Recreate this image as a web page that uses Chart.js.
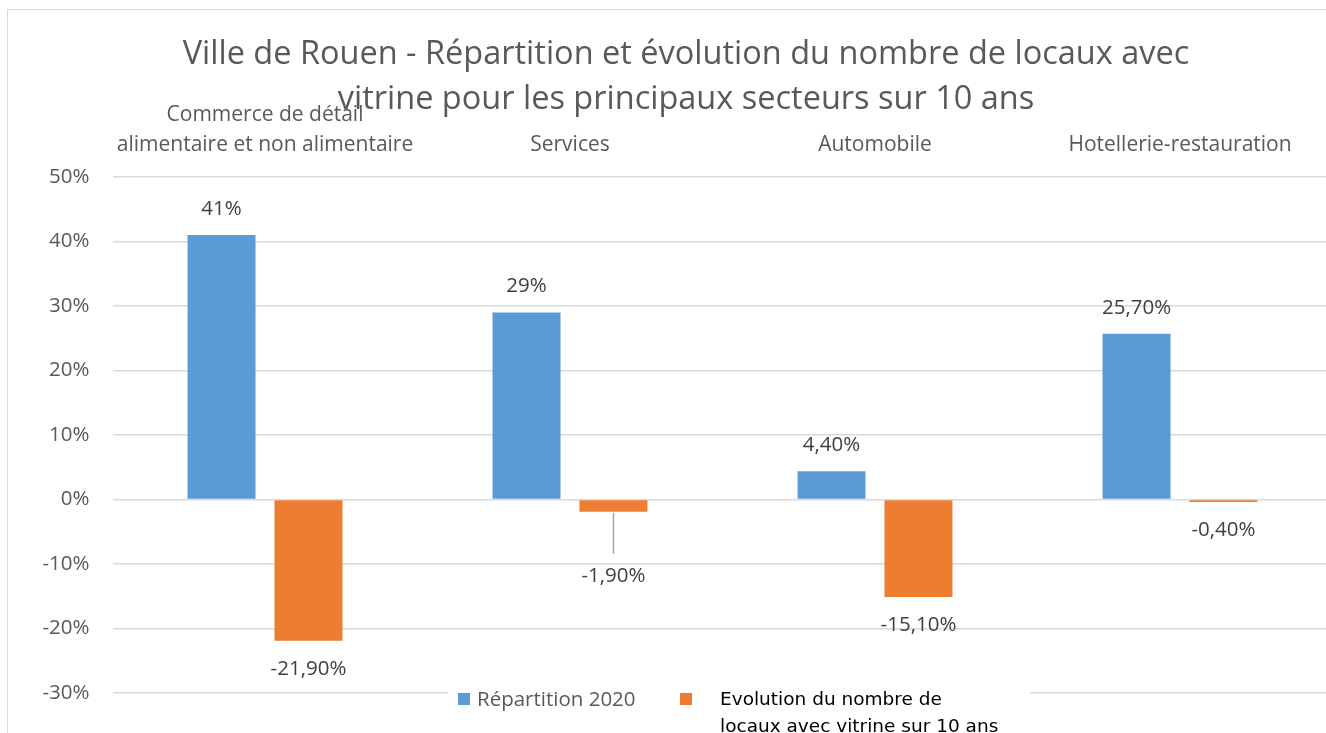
<!DOCTYPE html>
<html lang="fr">
<head>
<meta charset="utf-8">
<title>Ville de Rouen - locaux avec vitrine</title>
<script src="https://cdn.jsdelivr.net/npm/chart.js@4/dist/chart.umd.min.js"></script>
<style>
    html, body { margin: 0; padding: 0; background: #fff; overflow: hidden; }
    #frame { position: absolute; left: 7px; top: 9px; width: 1400px; height: 800px;
             border-left: 1.5px solid #d9d9d9; border-top: 1.5px solid #d9d9d9; }
    #wrap { position: absolute; left: 0; top: 0; width: 1340px; height: 733px; }
    #legend { position: absolute; left: 448px; top: 685px; width: 582px; height: 48px; background: #fff; }
    .sw { position: absolute; width: 12px; height: 12px; top: 8px; }
    .lbl { position: absolute; white-space: pre; }
</style>
</head>
<body>
<div id="frame"></div>
<div id="wrap"><canvas id="chart" width="1340" height="733"></canvas></div>
<div id="legend">
    <span class="sw" style="left:10px; background:#5B9BD5"></span>
    <span class="lbl" id="leg0" style="left:29px; top:0px; font: 20.5px/26px 'Open Sans'; color:#595959"></span>
    <span class="sw" style="left:232px; background:#ED7D31"></span>
    <span class="lbl" id="leg1" style="left:272px; top:0px; font: 18.5px/27px 'DejaVu Sans'; color:#000"></span>
</div>
<script>
const categories = [
    ['Commerce de détail', 'alimentaire et non alimentaire'],
    'Services',
    'Automobile',
    'Hotellerie-restauration'
];
const seriesNames = ['Répartition 2020', 'Evolution du nombre de\nlocaux avec vitrine sur 10 ans'];
const repartition = [41, 29, 4.4, 25.7];
const evolution = [-21.9, -1.9, -15.1, -0.4];
const repartitionLabels = ['41%', '29%', '4,40%', '25,70%'];
const evolutionLabels = ['-21,90%', '-1,90%', '-15,10%', '-0,40%'];
const yTicks = [-30, -20, -10, 0, 10, 20, 30, 40, 50];

document.getElementById('leg0').textContent = seriesNames[0];
document.getElementById('leg1').textContent = seriesNames[1];

// labels above / below bars, the -1,90% one is pushed down with a leader line
const valueLabels = {
    id: 'valueLabels',
    afterDatasetsDraw(chart) {
        const ctx = chart.ctx;
        const texts = [repartitionLabels, evolutionLabels];
        ctx.save();
        ctx.font = '20.5px "Open Sans"';
        ctx.fillStyle = '#404040';
        ctx.textAlign = 'center';
        ctx.textBaseline = 'middle';
        chart.data.datasets.forEach((ds, d) => {
            chart.getDatasetMeta(d).data.forEach((bar, i) => {
                const v = ds.data[i];
                let y = v >= 0 ? bar.y - 26 : bar.y + 28;
                if (d === 1 && i === 1) {
                    y = bar.y + 64;
                    ctx.strokeStyle = '#a6a6a6';
                    ctx.lineWidth = 1.5;
                    ctx.beginPath();
                    ctx.moveTo(bar.x, bar.y + 1);
                    ctx.lineTo(bar.x, y - 22);
                    ctx.stroke();
                }
                ctx.fillText(texts[d][i], bar.x, y);
            });
        });
        ctx.restore();
    }
};

const ctx = document.getElementById('chart').getContext('2d');
new Chart(ctx, {
    type: 'bar',
    data: {
        labels: categories,
        datasets: [{
            label: seriesNames[0],
            data: repartition,
            backgroundColor: '#5B9BD5',
            categoryPercentage: 0.57,
            barPercentage: 0.782
        }, {
            label: seriesNames[1],
            data: evolution,
            backgroundColor: '#ED7D31',
            categoryPercentage: 0.57,
            barPercentage: 0.782
        }]
    },
    options: {
        responsive: false,
        animation: false,
        devicePixelRatio: 1,
        // left padding moves the centred title to where the reference has it
        layout: { padding: { left: 39.5, right: 7.5, top: 0, bottom: 40 } },
        plugins: {
            legend: { display: false },
            tooltip: { enabled: false },
            title: {
                display: true,
                text: ['Ville de Rouen - Répartition et évolution du nombre de locaux avec',
                       'vitrine pour les principaux secteurs sur 10 ans'],
                color: '#595959',
                font: { family: 'Open Sans', size: 32.5, weight: 'normal', lineHeight: 1.385 },
                padding: { top: 32, bottom: -43 }
            }
        },
        scales: {
            x: {
                position: 'top',
                grid: { display: false },
                border: { display: false },
                ticks: {
                    color: '#595959',
                    font: { family: 'Open Sans', size: 21, lineHeight: 1.43 },
                    padding: 9,
                    maxRotation: 0,
                    autoSkip: false
                },
                afterFit(scale) { scale.height = 98; }
            },
            y: {
                min: -30,
                max: 50,
                afterBuildTicks(scale) { scale.ticks = yTicks.map(v => ({ value: v })); },
                grid: { color: '#d9d9d9', lineWidth: 1.5, drawTicks: false },
                border: { display: false },
                ticks: {
                    color: '#595959',
                    font: { family: 'Open Sans', size: 20.5 },
                    padding: 23,
                    callback: v => v + '%'
                },
                afterFit(scale) { scale.width = 73; }
            }
        }
    },
    plugins: [valueLabels]
});
</script>
</body>
</html>
